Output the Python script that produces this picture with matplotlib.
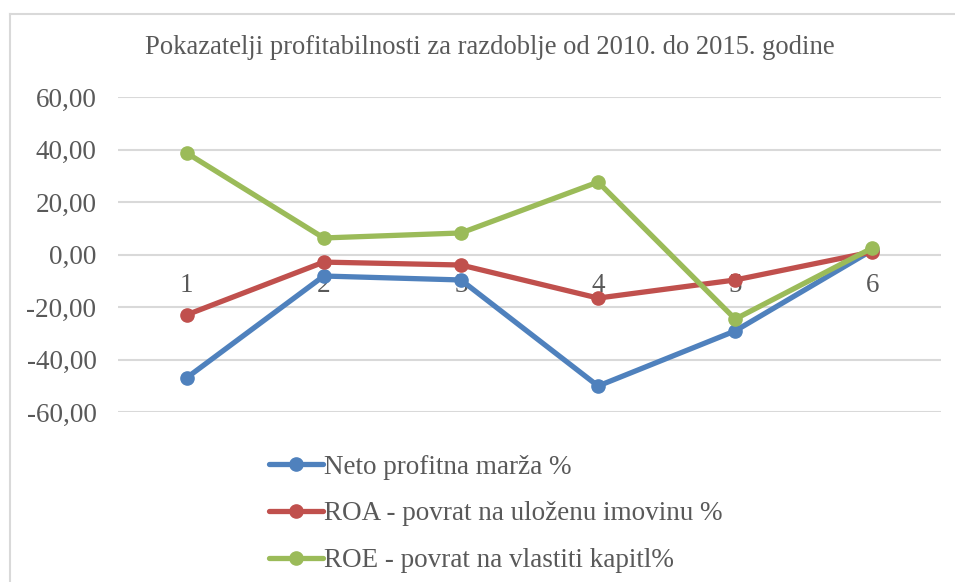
import matplotlib.pyplot as plt
from matplotlib.lines import Line2D
from matplotlib.ticker import FuncFormatter

# podaci ocitani sa grafikona
kategorije = [1, 2, 3, 4, 5, 6]
neto_marza = [-47.0, -8.2, -9.7, -50.1, -29.1, 1.7]
roa = [-23.0, -2.9, -4.0, -16.6, -9.7, 1.0]
roe = [38.7, 6.3, 8.2, 27.6, -24.6, 2.5]
nazivi = ["Neto profitna marža %",
          "ROA - povrat na uloženu imovinu %",
          "ROE - povrat na vlastiti kapitl%"]
boje = ["#4F81BD", "#C0504D", "#9BBB59"]

plt.rcParams['font.family'] = ['Liberation Serif', 'DejaVu Serif']
siva = "#595959"

W, H = 955, 582
fig = plt.figure(figsize=(W / 100, H / 100), dpi=100)

# okvir grafikona (vidljivi samo lijevi i gornji rub)
fig.add_artist(Line2D([10 / W, 10 / W], [0, 1 - 14 / H], color="#D9D9D9", lw=1.5))
fig.add_artist(Line2D([10 / W, 1], [1 - 14 / H, 1 - 14 / H], color="#D9D9D9", lw=1.5))

ax = fig.add_axes([118 / W, (H - 412) / H, (941 - 118) / W, (412 - 97) / H])

for vals, lab, c in zip([neto_marza, roa, roe], nazivi, boje):
    ax.plot(kategorije, vals, color=c, lw=3.8, marker="o", markersize=9.5,
            label=lab, clip_on=False, solid_capstyle="round")

ax.set_xlim(0.5, 6.5)
ax.set_ylim(-60, 60)
ax.set_yticks(range(-60, 61, 20))
ax.yaxis.set_major_formatter(FuncFormatter(lambda v, p: f"{v:.2f}".replace(".", ",")))
ax.grid(axis="y", color="#D9D9D9", lw=1.5)
ax.set_axisbelow(True)

for s in ax.spines.values():
    s.set_visible(False)
ax.spines['bottom'].set_position(('data', 0))
ax.set_xticks(kategorije)
ax.tick_params(axis="x", length=0, pad=13, labelsize=19.5, labelcolor=siva)
ax.tick_params(axis="y", length=0, pad=15.5, labelsize=19.5, labelcolor=siva)

fig.text(490 / W, 1 - 47 / H,
         "Pokazatelji profitabilnosti za razdoblje od 2010. do 2015. godine",
         ha="center", va="center", fontsize=19.2, color=siva)

fig.legend(loc="upper left", bbox_to_anchor=(258 / W, 1 - 444 / H), frameon=False,
           fontsize=19.5, labelcolor=siva, handlelength=2.0, handletextpad=0.05,
           labelspacing=0.8, borderaxespad=0)

fig.savefig("out.png", dpi=100)
